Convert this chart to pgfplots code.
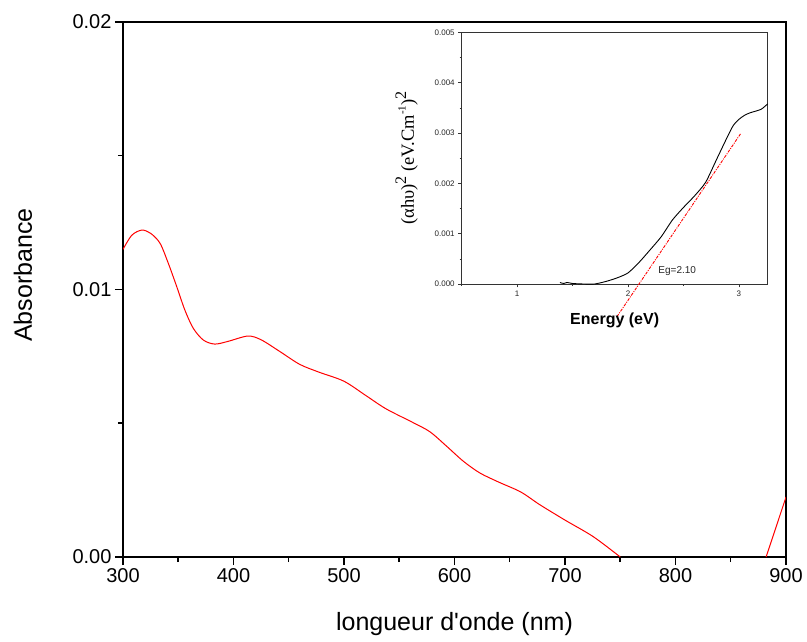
\documentclass[border=0pt]{standalone}
\usepackage{fontspec}
\setmainfont{Liberation Sans}
\newfontfamily\tnr{Liberation Serif}
\usepackage{pgfplots}
\pgfplotsset{compat=1.18}
\begin{document}
\begin{tikzpicture}
\useasboundingbox (-123bp,-85bp) rectangle (684bp,557bp);
\begin{axis}[
  at={(0,0)}, anchor=south west,
  scale only axis, width=663bp, height=535bp,
  xmin=300, xmax=900, ymin=0, ymax=0.02,
  axis line style={line width=1.8bp},
  tick style={line width=1.5bp, black},
  tick align=outside,
  major tick length=8bp, minor tick length=5bp,
  xtick pos=bottom, ytick pos=left,
  xtick={300,400,500,600,700,800,900},
  xticklabels={300,400,500,600,700,800,900},
  minor xtick={350,450,550,650,750,850},
  ytick={0,0.01,0.02},
  yticklabels={0.00,0.01,0.02},
  minor ytick={0.005,0.015},
  scaled y ticks=false,
  tick label style={font=\fontsize{20bp}{24bp}\selectfont},
  every axis x label/.style={at={(axis description cs:0.5,0)}, anchor=center, yshift=-67bp},
  every axis y label/.style={at={(axis description cs:0,0.527)}, anchor=center, rotate=90, yshift=100bp},
  label style={font=\fontsize{25bp}{30bp}\selectfont},
  xlabel={longueur d\textquotesingle onde (nm)},
  ylabel={Absorbance},
]
\addplot[red, line width=1bp, smooth, tension=0.5] coordinates {
(300,0.01150) (308,0.01203) (317,0.01222) (325,0.01210)
(333.5,0.01173) (341,0.01098) (348.6,0.01011) (356,0.00923) (363.6,0.00855)
(372.7,0.00811) (383,0.00796) (395,0.00806) (413,0.00826) (425,0.00812)
(442,0.00768) (460,0.00720) (478,0.00690)
(500,0.00657) (520,0.00603)
(538,0.00554) (562.7,0.00502) (577.8,0.00468) (592.9,0.00414)
(608,0.00358) (623,0.00314) (640,0.00280) (660,0.00243) (677,0.00196)
(700,0.00138) (725.6,0.00076) (750,0.0)
};
\addplot[red, line width=1bp] coordinates {(882,0.0) (900,0.00224)};
\end{axis}
\begin{axis}[
  at={(338.7bp,273bp)}, anchor=south west,
  scale only axis, width=306bp, height=251.7bp,
  xmin=0.5, xmax=3.26, ymin=0, ymax=0.005,
  clip=false,
  axis line style={line width=0.7bp, black!80},
  tick style={line width=0.6bp, black!80},
  tick align=outside,
  major tick length=3.5bp, minor tick length=2bp,
  xtick pos=bottom, ytick pos=left,
  xtick={1,2,3}, xticklabels={1,2,3},
  minor xtick={0.5,1.5,2.5},
  ytick={0,0.001,0.002,0.003,0.004,0.005},
  yticklabels={0.000,0.001,0.002,0.003,0.004,0.005},
  minor ytick={0.0005,0.0015,0.0025,0.0035,0.0045},
  scaled y ticks=false,
  tick label style={font=\fontsize{8bp}{10bp}\selectfont, text=black!85},
  every axis x label/.style={at={(axis description cs:0.5,0)}, anchor=center, yshift=-36bp},
  every axis y label/.style={at={(axis description cs:0,0.5)}, anchor=center, rotate=90, yshift=55bp},
  xlabel={\fontsize{16bp}{19bp}\selectfont\bfseries Energy (eV)},
  ylabel={\tnr\fontsize{18.5bp}{22bp}\selectfont (αhυ)\raisebox{0.42em}{\fontsize{16bp}{18bp}\selectfont 2} (eV.Cm\raisebox{0.45em}{\fontsize{11bp}{12bp}\selectfont -1})\raisebox{0.42em}{\fontsize{16bp}{18bp}\selectfont 2}},
]
\addplot[black, line width=0.9bp, smooth, tension=0.4] coordinates {
(1.386,0.00003) (1.42,0.00001) (1.45,0.00003) (1.5,0.00001) (1.6,0.0)
(1.7,0.0) (1.8,0.00005) (1.9,0.00012) (2.0,0.00022) (2.1,0.00043)
(2.2,0.00068) (2.3,0.00094) (2.4,0.00127) (2.5,0.00152) (2.6,0.00175)
(2.7,0.00202) (2.8,0.00248) (2.9,0.00294) (2.95,0.00315) (3.0,0.00327)
(3.05,0.00335) (3.1,0.00340) (3.2,0.00347) (3.26,0.00358)
};
\addplot[red, line width=0.9bp, dash pattern=on 3bp off 1.2bp on 1bp off 1.2bp] coordinates {(1.90,-0.00065) (3.02,0.00300)};
\node[font=\fontsize{10bp}{12bp}\selectfont, text=black!85] at (axis cs:2.444,0.00026) {Eg=2.10};
\end{axis}
\end{tikzpicture}
\end{document}
